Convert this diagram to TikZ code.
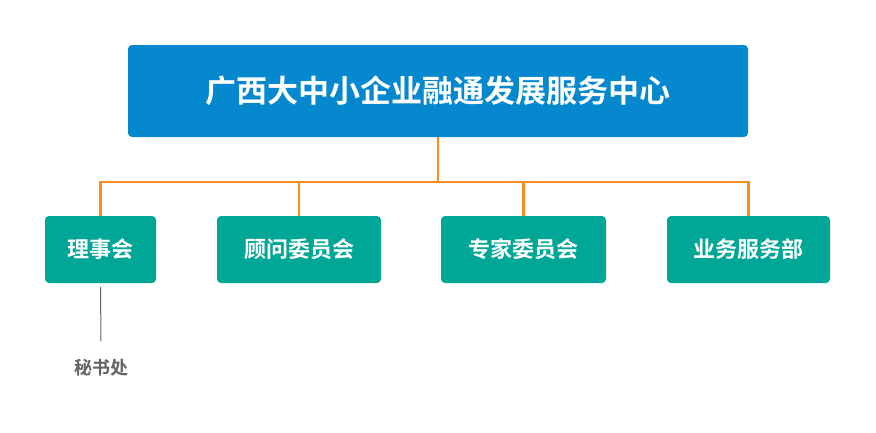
\documentclass[tikz,border=0pt]{standalone}
\usepackage{fontspec}
\newfontfamily\cjk{Noto Sans CJK SC}[BoldFont={Noto Sans CJK SC Bold}]
\begin{document}
\begin{tikzpicture}[x=1pt,y=-1pt,
  top/.style={fill=topblue,rounded corners=4pt,text=white,font=\cjk\bfseries\fontsize{31}{36}\selectfont,minimum width=620pt,minimum height=92pt,inner sep=0pt},
  sub/.style={fill=teal1,rounded corners=4pt,text=white,font=\cjk\bfseries\fontsize{22}{26}\selectfont,minimum height=67pt,inner sep=0pt},
  conn/.style={draw=lineorange,line width=2.5pt},
  ]
\definecolor{topblue}{RGB}{6,136,206}
\definecolor{teal1}{RGB}{0,166,150}
\definecolor{lineorange}{RGB}{247,143,30}
\definecolor{grey1}{RGB}{100,100,100}
\useasboundingbox (0,0) rectangle (876,432);
\fill[white] (0,0) rectangle (876,432);
\node[top] (t) at (438,91) {广西大中小企业融通发展服务中心};
\node[sub,minimum width=111pt] (a) at (100.5,249.5) {理事会};
\node[sub,minimum width=164pt] (b) at (299,249.5) {顾问委员会};
\node[sub,minimum width=165pt] (c) at (523.5,249.5) {专家委员会};
\node[sub,minimum width=163pt] (d) at (748.5,249.5) {业务服务部};
\coordinate (j) at (438,182);
\draw[conn] (t.south) -- (j);
\draw[conn] (a.north) |- (j) -| (d.north);
\draw[conn] (b.north) -- (b.north |- j);
\draw[conn] (c.north) -- (c.north |- j);
\node[font=\cjk\bfseries\fontsize{18}{22}\selectfont,text=grey1] (s) at (101,368) {秘书处};
\coordinate (g) at (101,341);
\draw[grey1,line width=1pt] ([yshift=-4pt]a.south) -- (g);
\end{tikzpicture}
\end{document}
